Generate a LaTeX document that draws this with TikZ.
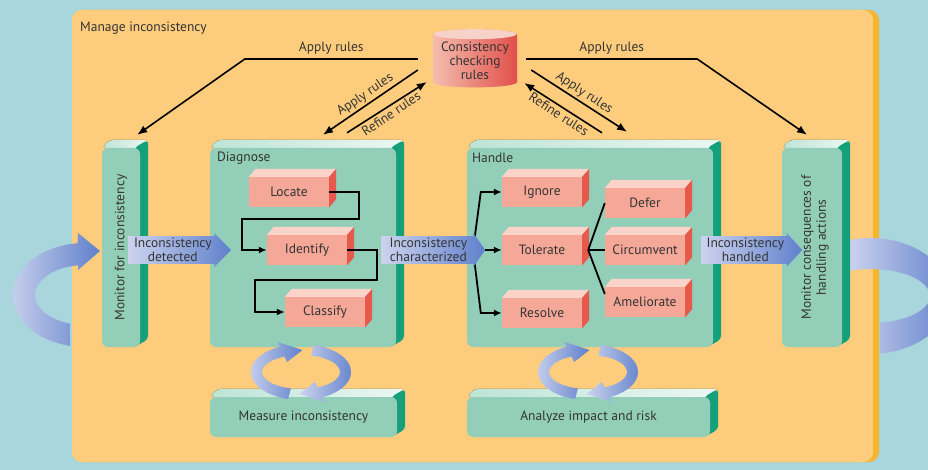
\documentclass[tikz,border=0pt]{standalone}
\usepackage{fontspec}
\setmainfont{PT Sans}
\usepackage{tikz}
\usetikzlibrary{shapes.geometric, shapes.arrows, arrows.meta, positioning, calc}

\definecolor{skyback}{HTML}{A8D6DC}
\definecolor{panelorange}{HTML}{FDCC7D}
\definecolor{paneledge}{HTML}{F6B52E}
\definecolor{greenfront}{HTML}{92CEB8}
\definecolor{greentop}{HTML}{BDE4D6}
\definecolor{greenside}{HTML}{13A07A}
\definecolor{redfront}{HTML}{F6A898}
\definecolor{redtop}{HTML}{FBD3C8}
\definecolor{redside}{HTML}{E65A4C}
\definecolor{rulespale}{HTML}{F5BCAE}
\definecolor{rulesred}{HTML}{E1504A}
\definecolor{rulestop}{HTML}{F7D2C8}
\definecolor{arrowpale}{HTML}{CDD3EE}
\definecolor{arrowblue}{HTML}{5F80CB}
\definecolor{inkgrey}{HTML}{343434}

\pgfdeclarelayer{back}
\pgfdeclarelayer{faces}
\pgfsetlayers{back,faces,main}

\begin{document}
\begin{tikzpicture}[x=1pt, y=-1pt,
  every node/.style={text=inkgrey},
  panel/.style={rectangle, fill=greenfront, rounded corners=6pt, inner sep=0pt, font=\fontsize{13.5}{15}\selectfont},
  task/.style={rectangle, fill=redfront, minimum width=80pt, minimum height=30pt, inner sep=0pt, font=\fontsize{13.5}{15}\selectfont},
  title/.style={anchor=west, inner sep=0pt, font=\fontsize{13.5}{15}\selectfont},
  sidetext/.style={rotate=90, align=center, font=\fontsize{13.5}{15}\selectfont},
  blockarrow/.style={single arrow, single arrow head extend=3pt, anchor=tail, inner sep=1.5pt, left color=arrowpale, right color=arrowblue, align=center, font=\fontsize{13.5}{14.5}\selectfont},
  flow/.style={-{Latex[length=8pt, width=7pt]}, line width=1.8pt},
  fan/.style={line width=1.8pt},
  rulearrow/.style={-{Latex[length=10pt, width=8pt]}, line width=1.6pt, font=\fontsize{13.5}{15}\selectfont},
  looparrow/.style={left color=arrowpale, right color=arrowblue}
]
\useasboundingbox (0,0) rectangle (928,470);

% green panels
\node[panel, minimum width=38pt, minimum height=199pt] (monitor) at (121,247.5) {};
\node[panel, minimum width=186pt, minimum height=199pt] (diagnose) at (303,247.5) {};
\node[panel, minimum width=246pt, minimum height=199pt] (handle) at (590,247.5) {};
\node[panel, minimum width=60pt, minimum height=199pt] (consequences) at (812,247.5) {};
\node[panel, minimum width=187pt, minimum height=40pt] (measure) at (303.5,417) {Measure inconsistency};
\node[panel, minimum width=243pt, minimum height=40pt] (analyze) at (588.5,417) {Analyze impact and risk};

\node[sidetext] (monitortext) at (monitor.center) {Monitor for inconsistency};
\node[sidetext] (consequencestext) at ($(consequences.center)+(3,0)$) {Monitor consequences of\\handling actions};
\node[title] (managetitle) at (80,28) {Manage inconsistency};
\node[title] (diagnosetitle) at ($(diagnose.north west)+(7,10)$) {Diagnose};
\node[title] (handletitle) at ($(handle.north west)+(5,10)$) {Handle};

% rules store
\node[cylinder, shape border rotate=90, aspect=0.15, minimum width=84pt, minimum height=58pt, left color=rulespale, right color=rulesred, align=center, inner sep=0pt, font=\fontsize{13.5}{14}\selectfont] (rules) at (475,61) {Consistency\\checking\\rules};
\fill[rulestop] ($(rules.north)+(0,5)$) ellipse[x radius=41.5, y radius=5];

% red steps
\node[task] (locate) at (289,192) {Locate};
\node[task] (identify) at (307,250) {Identify};
\node[task] (classify) at (325,312) {Classify};
\node[task] (ignore) at (542,192) {Ignore};
\node[task] (tolerate) at (542,250) {Tolerate};
\node[task] (resolve) at (542,313) {Resolve};
\node[task] (defer) at (645,203) {Defer};
\node[task] (circumvent) at (645,250) {Circumvent};
\node[task] (ameliorate) at (645,302) {Ameliorate};

\foreach \t in {locate,identify,classify,ignore,tolerate,resolve,defer,circumvent,ameliorate}{
  \fill[redtop] (\t.north west) -- ++(7,-8) -- ($(\t.north east)+(7,-8)$) -- (\t.north east) -- cycle;
  \fill[redside] (\t.north east) -- ++(7,-8) -- ($(\t.south east)+(7,-8)$) -- (\t.south east) -- cycle;
}

% diagnose steps
\draw[flow] (locate.east) -| ($(locate.east)+(30,27)$) -| ($(identify.west)+(-25,0)$) -- (identify.west);
\draw[flow] (identify.east) -| ($(identify.east)+(30,30)$) -| ($(classify.west)+(-30,0)$) -- (classify.west);

% handle steps
\coordinate (hub) at (473,250);
\draw[flow] (hub) -- ($(ignore.west)+(-21,0)$) -- (ignore.west);
\draw[flow] (hub) -- ($(resolve.west)+(-21,0)$) -- (resolve.west);
\coordinate (fan) at ($(tolerate.east)+(6,0)$);
\draw[fan] (fan) -- (defer.west);
\draw[fan] (fan) -- (circumvent.west);
\draw[fan] (fan) -- ($(ameliorate.west)+(0,-8)$);

% block arrows
\node[blockarrow, minimum height=103pt, single arrow tip angle=90] (detected) at (128,250) {Inconsistency\\detected};
\node[blockarrow, minimum height=104pt, single arrow tip angle=110] (characterized) at (381,250) {Inconsistency\\characterized};
\node[blockarrow, minimum height=101pt, single arrow tip angle=95] (handled) at (701,250) {Inconsistency\\handled};
\draw[flow] (characterized.tip) -- (tolerate.west);

% rules
\draw[rulearrow] ($(rules.west)+(-15,-2)$) -- node[above=1pt] (applyleft) {Apply rules} ++(-173,0) -- ($(monitor.north east)+(-3,-13)$);
\draw[rulearrow] ($(rules.west)+(-15,9)$) -- node[midway, rotate=34, anchor=south, inner sep=2pt] (applydiagnose) {Apply rules} ($(diagnose.north)+(20,-13)$);
\draw[rulearrow] ($(diagnose.north)+(44,-15)$) -- node[midway, rotate=34, anchor=north, inner sep=2pt] (refinediagnose) {Refine rules} ($(rules.west)+(-6,21)$);
\draw[rulearrow] ($(rules.east)+(9,-2)$) -- node[above=1pt] (applyright) {Apply rules} ++(171,0) -- ($(consequences.north)+(-5,-13)$);
\draw[rulearrow] ($(rules.east)+(14,9)$) -- node[midway, rotate=-33, anchor=south, inner sep=2pt] (applyhandle) {Apply rules} ($(handle.north)+(37,-16)$);
\draw[rulearrow] ($(handle.north)+(12,-15)$) -- node[midway, rotate=-33, anchor=north, inner sep=2pt] (refinehandle) {Refine rules} ($(rules.east)+(7,22)$);

% measuring loops
\foreach \cx in {301,588}{
  \path[looparrow] ($(\cx,372)+(105:50 and 28)$) arc[start angle=105, end angle=245, x radius=50, y radius=28] -- ($(\cx,372)+(245:55 and 33)$) -- ($(\cx,372)+(272:44 and 22)$) -- ($(\cx,372)+(245:33 and 11)$) -- ($(\cx,372)+(245:39 and 17)$) arc[start angle=245, end angle=105, x radius=39, y radius=17] -- cycle;
  \path[looparrow] ($(\cx,372)+(285:50 and 28)$) arc[start angle=285, end angle=425, x radius=50, y radius=28] -- ($(\cx,372)+(425:55 and 33)$) -- ($(\cx,372)+(452:44 and 22)$) -- ($(\cx,372)+(425:33 and 11)$) -- ($(\cx,372)+(425:39 and 17)$) arc[start angle=425, end angle=285, x radius=39, y radius=17] -- cycle;
}

\begin{pgfonlayer}{faces}
\foreach \p in {monitor,diagnose,handle,consequences,measure,analyze}{
  \fill[left color=greentop, right color=greentop!30!white, rounded corners=4pt] (\p.north west) -- ++(8,-8) -- ($(\p.north east)+(8,-8)$) -- (\p.north east) -- cycle;
  \fill[greenside, rounded corners=4pt] ($(\p.north east)+(-6,0)$) -- ++(14,-8) -- ($(\p.south east)+(8,-8)$) -- ($(\p.south east)+(-6,0)$) -- cycle;
}
\end{pgfonlayer}

\begin{pgfonlayer}{back}
\fill[skyback] (0,0) rectangle (928,470);
\fill[paneledge, rounded corners=10pt] (72,10) rectangle (879,462);
\fill[panelorange, rounded corners=10pt] (72,10) rectangle (873,462);
% outer loops
\path[looparrow] ($(85,295)+(102:72 and 52)$) arc[start angle=102, end angle=264, x radius=72, y radius=52] -- (78,233) -- (100,251) -- (78,270) -- ($(85,295)+(262:50 and 30)$) arc[start angle=262, end angle=107.5, x radius=50, y radius=30] -- cycle;
\path[looparrow] ($(870,296)+(253.3:80 and 58)$) arc[start angle=253.3, end angle=442.8, x radius=80, y radius=58] -- ($(870,296)+(440.4:60 and 27)$) arc[start angle=440.4, end angle=247.5, x radius=60, y radius=27] -- cycle;
\end{pgfonlayer}
\end{tikzpicture}
\end{document}
